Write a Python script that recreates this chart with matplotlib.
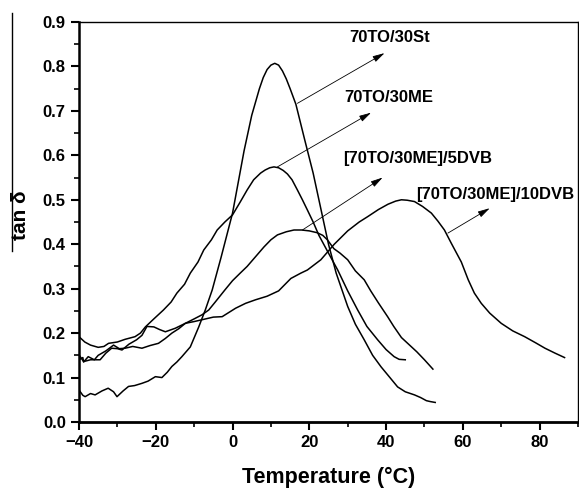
import matplotlib
matplotlib.use("Agg")
import matplotlib.pyplot as plt
from matplotlib.lines import Line2D
from matplotlib.ticker import MultipleLocator
import numpy as np

plt.rcParams['font.family'] = ['Liberation Sans', 'DejaVu Sans']
plt.rcParams['font.weight'] = 'bold'

# 70TO/30St
t_st = [-40, -39, -38.4, -37, -35.8, -34, -32.4, -31, -30.1, -28.5, -27.1, -25.5,
        -23.6, -22, -20.1, -18.4, -17, -15.8, -14.5, -13.2, -11, -8.8, -7.1, -5.3,
        -3, -1.5, 0, 1.5, 3, 5, 7, 8, 9, 10, 11, 12, 13, 14, 15, 16.5, 18.8, 21, 23,
        25, 27, 30, 32, 34.3, 36.5, 38.7, 41, 43, 45, 47.4, 49, 50.5, 51.5, 52.8]
y_st = [0.072, 0.06, 0.057, 0.064, 0.061, 0.07, 0.076, 0.068, 0.057, 0.07, 0.08, 0.082,
        0.087, 0.092, 0.102, 0.10, 0.112, 0.125, 0.135, 0.147, 0.169, 0.214, 0.252, 0.297,
        0.37, 0.42, 0.47, 0.54, 0.61, 0.69, 0.75, 0.775, 0.793, 0.803, 0.807, 0.803,
        0.79, 0.772, 0.75, 0.715, 0.635, 0.56, 0.48, 0.40, 0.335, 0.26, 0.22, 0.185,
        0.15, 0.124, 0.10, 0.079, 0.068, 0.061, 0.055, 0.048, 0.046, 0.044]

# 70TO/30ME
t_me = [-40, -38.5, -37, -35, -33.5, -32.3, -30, -28, -25.4, -24, -22.7, -20.5, -18,
        -16, -14.5, -12.5, -11, -9, -7.5, -5.5, -4, -2, 0, 2, 3.8, 5.5, 7.3, 8.5, 9.7,
        10.8, 12, 13.2, 14.3, 15.5, 16.9, 18.2, 19.5, 21, 22.5, 25, 27.4, 30, 32.6, 35,
        37.8, 40, 42.1, 43.4, 45]
y_me = [0.192, 0.18, 0.173, 0.168, 0.17, 0.177, 0.18, 0.186, 0.192, 0.2, 0.214, 0.232,
        0.252, 0.27, 0.29, 0.31, 0.335, 0.36, 0.387, 0.41, 0.432, 0.45, 0.466, 0.495,
        0.522, 0.545, 0.56, 0.567, 0.572, 0.574, 0.572, 0.566, 0.558, 0.545, 0.522,
        0.50, 0.477, 0.45, 0.42, 0.38, 0.342, 0.295, 0.252, 0.215, 0.185, 0.163, 0.147,
        0.141, 0.14]

# [70TO/30ME]/5DVB
t_5dvb = [-40, -39, -38.8, -37.6, -36, -35, -33, -31, -29.5, -28, -26, -23.6, -21.5,
          -19.3, -17.5, -15.8, -14, -12.3, -10, -8, -6.2, -4.5, -2, 0, 2, 3.8, 6, 8.2,
          10, 11.7, 14, 16, 18, 20, 22, 23.5, 24.7, 26.4, 28, 30, 32, 34.3, 36, 38,
          40.4, 42, 44, 46.5, 48, 50, 52.2]
y_5dvb = [0.14, 0.145, 0.135, 0.147, 0.14, 0.15, 0.16, 0.173, 0.165, 0.166, 0.17, 0.166,
          0.172, 0.177, 0.188, 0.2, 0.21, 0.222, 0.232, 0.241, 0.252, 0.27, 0.297, 0.318,
          0.335, 0.35, 0.372, 0.394, 0.41, 0.421, 0.428, 0.432, 0.432, 0.43, 0.426, 0.42,
          0.41, 0.39, 0.38, 0.365, 0.34, 0.32, 0.295, 0.268, 0.237, 0.215, 0.19, 0.17,
          0.158, 0.14, 0.119]

# [70TO/30ME]/10DVB
t_10dvb = [-40, -38.8, -37, -34.5, -33, -31.5, -30, -28.8, -27, -25, -23.6, -22.3, -20.5,
           -19, -17.5, -14.9, -12.3, -10, -8, -5, -2.7, 0.8, 3.4, 6, 9, 12, 15.2, 17.8,
           19.5, 23, 26.5, 30, 33, 35.2, 38, 40.5, 42.5, 44, 45.5, 47.4, 49.5, 51.8,
           53.5, 55.2, 57, 59.6, 61.4, 63, 64.8, 67, 70, 73, 76.1, 79, 81.4, 84, 86.5]
y_10dvb = [0.151, 0.136, 0.14, 0.14, 0.155, 0.166, 0.165, 0.162, 0.175, 0.185, 0.195,
           0.215, 0.214, 0.208, 0.203, 0.211, 0.222, 0.226, 0.23, 0.236, 0.237, 0.256,
           0.267, 0.275, 0.283, 0.295, 0.323, 0.335, 0.342, 0.365, 0.40, 0.43, 0.45,
           0.462, 0.478, 0.49, 0.497, 0.50, 0.499, 0.496, 0.485, 0.47, 0.452, 0.432,
           0.402, 0.36, 0.32, 0.29, 0.267, 0.245, 0.222, 0.205, 0.192, 0.178, 0.166,
           0.155, 0.145]

labels = ["70TO/30St", "70TO/30ME", "[70TO/30ME]/5DVB", "[70TO/30ME]/10DVB"]
# arrow start (on curve), arrow tip, label position
arrow_from = [(16.9, 0.717), (11.7, 0.574), (18.2, 0.432), (56.1, 0.425)]
arrow_to = [(39.6, 0.83), (36.1, 0.696), (39.1, 0.55), (67.0, 0.481)]
label_at = [(40.8, 0.865), (40.8, 0.731), (48.3, 0.592), (68.5, 0.513)]

fig = plt.figure(figsize=(5.79, 4.90), dpi=100)
ax = fig.add_axes([79 / 579, 1 - 422 / 490, 499 / 579, 400 / 490])

for t, y in [(t_st, y_st), (t_me, y_me), (t_5dvb, y_5dvb), (t_10dvb, y_10dvb)]:
    ax.plot(t, y, color='black', lw=1.1)

for lab, a0, a1, pos in zip(labels, arrow_from, arrow_to, label_at):
    ax.annotate('', xy=a1, xytext=a0,
                arrowprops=dict(arrowstyle='-|>,head_length=0.6,head_width=0.16',
                                lw=0.6, color='black', mutation_scale=12,
                                shrinkA=0, shrinkB=0))
    ax.text(pos[0], pos[1], lab, ha='center', va='center', fontsize=12,
            fontweight='bold')

ax.set_xlim(-40, 90)
ax.set_ylim(0, 0.9)
ax.xaxis.set_major_locator(MultipleLocator(20))
ax.xaxis.set_minor_locator(MultipleLocator(10))
ax.yaxis.set_major_locator(MultipleLocator(0.1))
ax.yaxis.set_minor_locator(MultipleLocator(0.05))
ax.yaxis.set_major_formatter(lambda v, p: f"{v:.1f}")
ax.tick_params(which='major', direction='out', length=6, width=1.5, labelsize=12)
ax.tick_params(which='minor', direction='out', length=3.5, width=1.2)
ax.tick_params(top=False, right=False, which='both')
for lbl in ax.get_xticklabels() + ax.get_yticklabels():
    lbl.set_fontweight('bold')

ax.spines['left'].set_linewidth(1.8)
ax.spines['bottom'].set_linewidth(2.0)
ax.spines['top'].set_linewidth(1.0)
ax.spines['right'].set_linewidth(1.0)

ax.set_xlabel("Temperature (°C)", fontsize=15.5, fontweight='bold', labelpad=12)
fig.text(20 / 579, 1 - 215 / 490, "tan δ", rotation=90, ha='center', va='center',
         fontsize=15, fontweight='bold')
fig.add_artist(Line2D([12 / 579, 12 / 579], [1 - 13 / 490, 1 - 251 / 490],
                      color='black', lw=1.0))

fig.savefig("out.png", dpi=100)
